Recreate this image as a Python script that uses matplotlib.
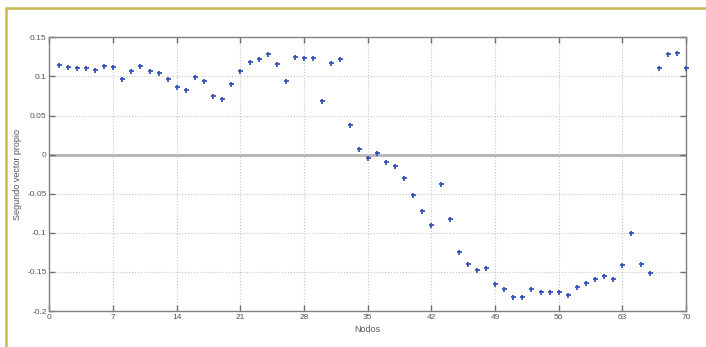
import matplotlib.pyplot as plt
import numpy as np
from matplotlib.patches import Rectangle

# segundo vector propio, un valor por nodo (1..70)
nodos = np.arange(1, 71)
vector2 = [
    0.1147, 0.1119, 0.1106, 0.1102, 0.1085, 0.1128, 0.1115, 0.0961, 0.1068, 0.1132,
    0.1063, 0.1042, 0.0970, 0.0867, 0.0825, 0.0991, 0.0940, 0.0744, 0.0706, 0.0908,
    0.1068, 0.1179, 0.1221, 0.1285, 0.1157, 0.0944, 0.1243, 0.1234, 0.1234, 0.0688,
    0.1170, 0.1217, 0.0381, 0.0066, -0.0041, 0.0015, -0.0092, -0.0143, -0.0304, -0.0514,
    -0.0726, -0.0905, -0.0381, -0.0827, -0.1251, -0.1404, -0.1473, -0.1455, -0.1656, -0.1724,
    -0.1818, -0.1818, -0.1716, -0.1758, -0.1762, -0.1758, -0.1795, -0.1694, -0.1643, -0.1596,
    -0.1558, -0.1588, -0.1417, -0.1000, -0.1396, -0.1515, 0.1110, 0.1289, 0.1294, 0.1106,
]

xticks = list(range(0, 71, 7))
yticks = [0.15, 0.1, 0.05, 0, -0.05, -0.1, -0.15, -0.2]
ylabels = ['0.15', '0.1', '0.05', '0', '-0.05', '-0.1', '-0.15', '-0.2']

plt.rcParams['font.family'] = ['Liberation Sans Narrow', 'Liberation Sans', 'DejaVu Sans']

fig = plt.figure(figsize=(7.06, 3.47), dpi=100)
ax = fig.add_axes([0.0701, 0.1037, 0.9016, 0.7888])

# marco amarillo alrededor de la figura
fig.patches.append(Rectangle((6 / 706, -0.1), 2.0, 1 - 8 / 347 + 0.1,
                             transform=fig.transFigure, fill=False,
                             edgecolor='#c9b651', linewidth=1.8, zorder=0))

ax.axhline(0, color='#b0b0b0', linewidth=2.0, zorder=1)
ax.plot(nodos, vector2, linestyle='none', marker='+', markersize=3.6,
        markeredgewidth=1.3, color='#3553b8', zorder=3, clip_on=False)

ax.set_xlim(0, 70)
ax.set_ylim(-0.2, 0.15)
ax.set_xticks(xticks)
ax.set_xticklabels([str(t) for t in xticks])
ax.set_yticks(yticks)
ax.set_yticklabels(ylabels)

ax.grid(True, linestyle=':', color='#c4c4c4', linewidth=0.8)
ax.tick_params(direction='in', length=4, width=1, color='#707070',
               labelsize=6, labelcolor='#555555', pad=2,
               top=True, right=True)
for s in ax.spines.values():
    s.set_color('#808080')
    s.set_linewidth(1.0)

ax.set_xlabel('Nodos', fontsize=6.5, color='#555555', labelpad=3)
ax.set_ylabel('Segundo vector propio', fontsize=6.5, color='#555555', labelpad=4)

fig.savefig('out.png', dpi=100)
